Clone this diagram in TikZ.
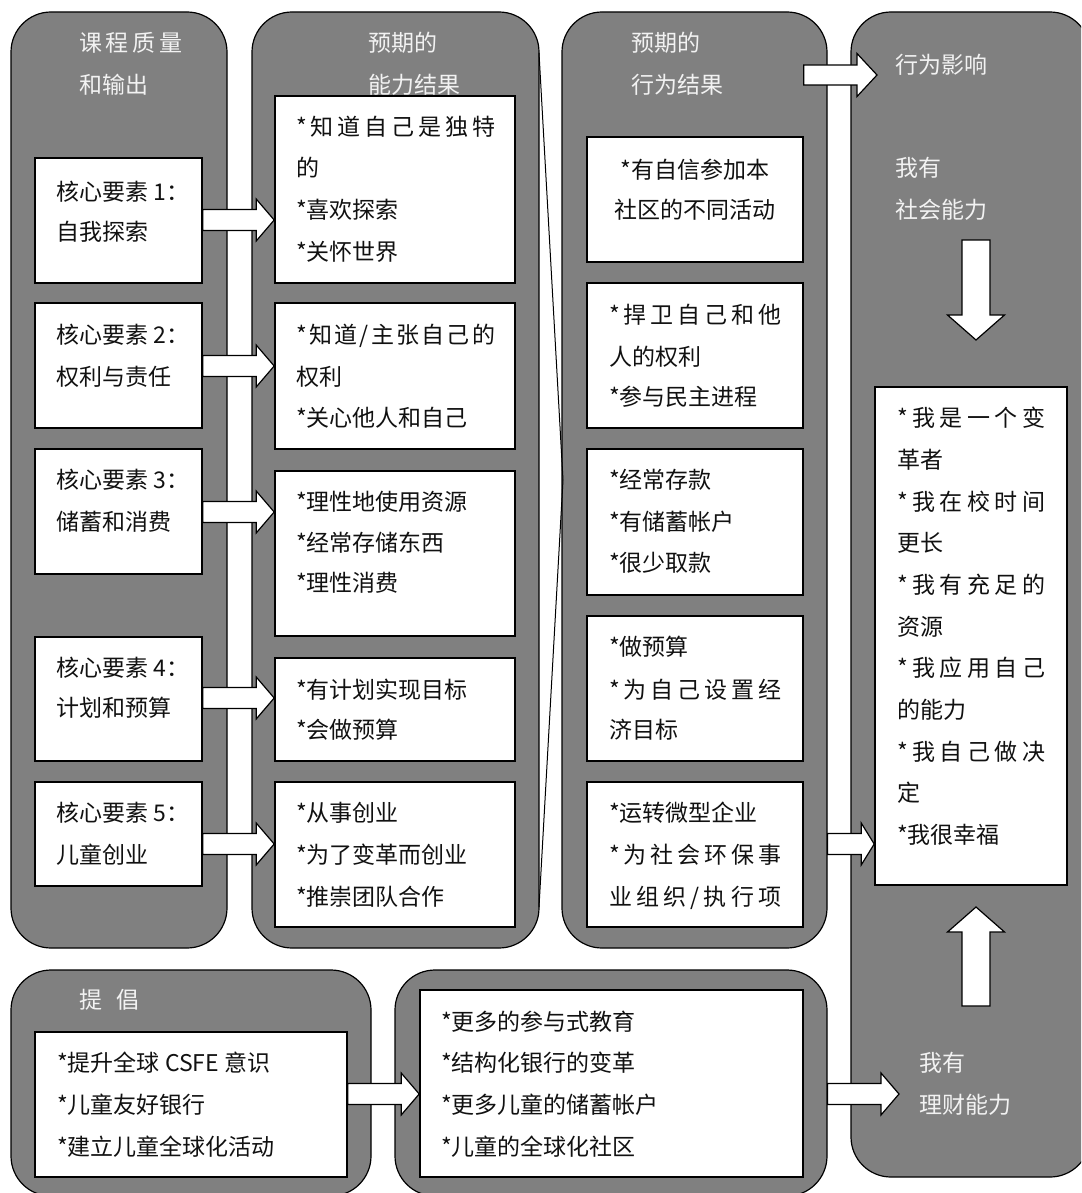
\documentclass[tikz,border=0pt]{standalone}
\usepackage{fontspec}
\setmainfont{Noto Sans CJK SC}
\usetikzlibrary{calc}
\definecolor{panelgray}{HTML}{808080}
\definecolor{hdrcol}{HTML}{F2F2F2}
\definecolor{txtcol}{HTML}{111111}
\def\spr#1{#1\sprnext}
\def\sprnext#1{\ifx#1\relax\else\hfil#1\expandafter\sprnext\fi}
\newcommand\js[2]{\makebox[#1pt][s]{\spr #2\relax}}
\newcommand\rarr[6]{%
  \draw[blk] let \p1=#1, \p2=#2, \p3=(0,#3) in
    (\x1,\y3+#5) -- (\x2-#4,\y3+#5) -- (\x2-#4,\y3+#6) -- (\x2,\y3) --
    (\x2-#4,\y3-#6) -- (\x2-#4,\y3-#5) -- (\x1,\y3-#5) -- cycle;}
\newcommand\varr[6]{%
  \draw[blk] ({#1-#5},#2) -- ({#1-#5},#3) -- ({#1-#6},#3) -- (#1,#4) --
    ({#1+#6},#3) -- ({#1+#5},#3) -- ({#1+#5},#2) -- cycle;}
\begin{document}
\begin{tikzpicture}[x=1pt,y=-1pt,
  panel/.style={draw=black, line width=1.2pt, fill=panelgray, rounded corners=40pt, inner sep=0pt},
  wbox/.style={draw=black, line width=1.6pt, fill=white, inner sep=0pt},
  txt/.style={anchor=west, inner sep=0pt, font=\fontsize{23pt}{28pt}\selectfont, text height=20pt, text depth=3pt, text=txtcol},
  hdr/.style={txt, text=hdrcol},
  blk/.style={draw=black, line width=1.2pt, fill=white, line join=miter}]
\useasboundingbox (0,0) rectangle (1081,1193);
\clip (0,0) rectangle (1081,1193);
\fill[white] (0,0) rectangle (1081,1193);

% panels
\node[panel, minimum width=216pt, minimum height=936pt] (pA) at (119,480) {};
\node[panel, minimum width=287pt, minimum height=936pt] (pB) at (395.5,480) {};
\node[panel, minimum width=265pt, minimum height=936pt] (pC) at (694.5,480) {};
\node[panel, minimum width=239pt, minimum height=1165pt] (pD) at (970.5,594.5) {};
\node[panel, minimum width=360pt, minimum height=226pt] (pE) at (191,1083) {};
\node[panel, minimum width=432pt, minimum height=226pt] (pF) at (611,1083) {};

% wedge between B and C
\coordinate (wt) at (539,53);
\coordinate (wm) at (563,480);
\coordinate (wb) at (539,907);
\draw[line width=1pt] (wt) -- (wm) -- (wb);

% white boxes
\node[wbox, minimum width=167pt, minimum height=125pt] (a1) at (118.5,220.5) {};
\node[wbox, minimum width=167pt, minimum height=125pt] (a2) at (118.5,365.5) {};
\node[wbox, minimum width=167pt, minimum height=125pt] (a3) at (118.5,511.5) {};
\node[wbox, minimum width=167pt, minimum height=124pt] (a4) at (118.5,699) {};
\node[wbox, minimum width=167pt, minimum height=104pt] (a5) at (118.5,834) {};

\node[wbox, minimum width=240pt, minimum height=187pt] (b1) at (395,189.5) {};
\node[wbox, minimum width=240pt, minimum height=146pt] (b2) at (395,376) {};
\node[wbox, minimum width=240pt, minimum height=165pt] (b3) at (395,553.5) {};
\node[wbox, minimum width=240pt, minimum height=103pt] (b4) at (395,709.5) {};
\node[wbox, minimum width=240pt, minimum height=145pt] (b5) at (395,854.5) {};

\node[wbox, minimum width=216pt, minimum height=125pt] (c1) at (695,199.5) {};
\node[wbox, minimum width=216pt, minimum height=145pt] (c2) at (695,355.5) {};
\node[wbox, minimum width=216pt, minimum height=146pt] (c3) at (695,522) {};
\node[wbox, minimum width=216pt, minimum height=145pt] (c4) at (695,688.5) {};
\node[wbox, minimum width=216pt, minimum height=145pt] (c5) at (695,854.5) {};

\node[wbox, minimum width=192pt, minimum height=498pt] (dbox) at (971,636) {};
\node[wbox, minimum width=312pt, minimum height=145pt] (ebox) at (191,1104.5) {};
\node[wbox, minimum width=383pt, minimum height=187pt] (fbox) at (611.5,1083.5) {};

% arrows
\rarr{(a1.east)}{(b1.west)}{220}{18}{10.5}{21}
\rarr{(a2.east)}{(b2.west)}{366}{18}{10.5}{21}
\rarr{(a3.east)}{(b3.west)}{512}{18}{10.5}{21}
\rarr{(a4.east)}{(b4.west)}{698}{18}{10.5}{21}
\rarr{(a5.east)}{(b5.west)}{844}{18}{10.5}{21}
\coordinate (ttip) at (877,75);
\rarr{(c1.east)}{(ttip)}{75}{20}{10}{21.5}
\rarr{(pC.east)}{(dbox.west)}{844}{13}{10.5}{21}
\rarr{(ebox.east)}{(fbox.west)}{1094}{18}{10.5}{21}
\coordinate (ftip) at (899,1094);
\rarr{(pF.east)}{(ftip)}{1094}{18}{10.5}{21}
\varr{976}{240}{315}{340}{14}{28.5}
\varr{976}{1006}{932}{907}{14}{28.5}

% headers
\node[hdr] (hA1) at (79,43) {\js{103}{课程质量}};
\node[hdr] (hA2) at (79,85) {和输出};
\node[hdr] (hB1) at (368,43) {预期的};
\node[hdr] (hB2) at (368,85) {能力结果};
\node[hdr] (hC1) at (631,43) {预期的};
\node[hdr] (hC2) at (631,85) {行为结果};
\node[hdr] (hD1) at (895,65) {行为影响};
\node[hdr] (hD2) at (895,168) {我有};
\node[hdr] (hD3) at (895,210) {社会能力};
\node[hdr] (hD4) at (919,1063) {我有};
\node[hdr] (hD5) at (919,1105) {理财能力};
\node[hdr] (hE) at (79,1000) {提\hspace{14pt}倡};

% column A texts
\node[txt] (ta11) at (56,192) {核心要素 1：};
\node[txt] (ta12) at (56,232) {自我探索};
\node[txt] (ta21) at (56,335) {核心要素 2：};
\node[txt] (ta22) at (56,377) {权利与责任};
\node[txt] (ta31) at (56,480) {核心要素 3：};
\node[txt] (ta32) at (56,522) {储蓄和消费};
\node[txt] (ta41) at (56,668) {核心要素 4：};
\node[txt] (ta42) at (56,708) {计划和预算};
\node[txt] (ta51) at (56,813) {核心要素 5：};
\node[txt] (ta52) at (56,855) {儿童创业};

% column B texts
\node[txt] (tb11) at (296,127) {\js{199}{*知道自己是独特}};
\node[txt] (tb12) at (296,168) {的};
\node[txt] (tb13) at (296,210) {*喜欢探索};
\node[txt] (tb14) at (296,252) {*关怀世界};
\node[txt] (tb21) at (296,335) {\js{199}{*知道/主张自己的}};
\node[txt] (tb22) at (296,377) {权利};
\node[txt] (tb23) at (296,418) {*关心他人和自己};
\node[txt] (tb31) at (296,502) {*理性地使用资源};
\node[txt] (tb32) at (296,543) {*经常存储东西};
\node[txt] (tb33) at (296,583) {*理性消费};
\node[txt] (tb41) at (296,690) {*有计划实现目标};
\node[txt] (tb42) at (296,730) {*会做预算};
\node[txt] (tb51) at (296,813) {*从事创业};
\node[txt] (tb52) at (296,855) {*为了变革而创业};
\node[txt] (tb53) at (296,897) {*推崇团队合作};

% column C texts
\node[txt, anchor=center] (tc11) at (695,170) {*有自信参加本};
\node[txt, anchor=center] (tc12) at (695,210) {社区的不同活动};
\node[txt] (tc21) at (609,315) {\js{172}{*捍卫自己和他}};
\node[txt] (tc22) at (609,357) {人的权利};
\node[txt] (tc23) at (609,397) {*参与民主进程};
\node[txt] (tc31) at (609,480) {*经常存款};
\node[txt] (tc32) at (609,522) {*有储蓄帐户};
\node[txt] (tc33) at (609,563) {*很少取款};
\node[txt] (tc41) at (609,647) {*做预算};
\node[txt] (tc42) at (609,690) {\js{172}{*为自己设置经}};
\node[txt] (tc43) at (609,730) {济目标};
\node[txt] (tc51) at (609,813) {*运转微型企业};
\node[txt] (tc52) at (609,855) {\js{172}{*为社会环保事}};
\node[txt] (tc53) at (609,897) {\js{172}{业组织/执行项}};

% column D texts
\node[txt] (td1) at (897,418) {\js{148}{*我是一个变}};
\node[txt] (td2) at (897,460) {革者};
\node[txt] (td3) at (897,502) {\js{148}{*我在校时间}};
\node[txt] (td4) at (897,543) {更长};
\node[txt] (td5) at (897,585) {\js{148}{*我有充足的}};
\node[txt] (td6) at (897,627) {资源};
\node[txt] (td7) at (897,668) {\js{148}{*我应用自己}};
\node[txt] (td8) at (897,710) {的能力};
\node[txt] (td9) at (897,752) {\js{148}{*我自己做决}};
\node[txt] (td10) at (897,793) {定};
\node[txt] (td11) at (897,835) {*我很幸福};

% bottom texts
\node[txt] (te1) at (57,1063) {*提升全球 CSFE 意识};
\node[txt] (te2) at (57,1105) {*儿童友好银行};
\node[txt] (te3) at (57,1147) {*建立儿童全球化活动};
\node[txt] (tf1) at (441,1022) {*更多的参与式教育};
\node[txt] (tf2) at (441,1063) {*结构化银行的变革};
\node[txt] (tf3) at (441,1105) {*更多儿童的储蓄帐户};
\node[txt] (tf4) at (441,1147) {*儿童的全球化社区};
\end{tikzpicture}
\end{document}
